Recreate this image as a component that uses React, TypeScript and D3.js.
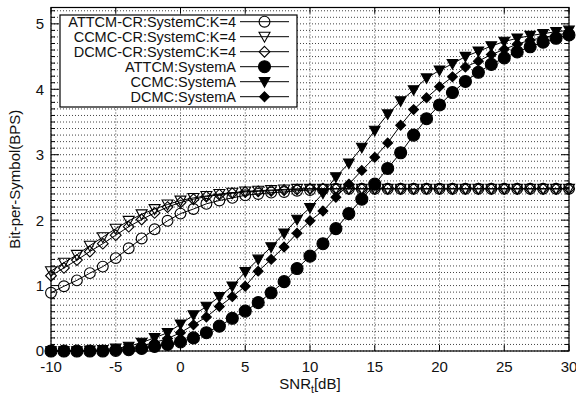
import React from "react";
import * as d3 from "d3";

const snr: number[] = d3.range(-10, 31, 1);

const attcmCR: number[] = [0.89, 0.99, 1.08, 1.19, 1.29, 1.42, 1.57, 1.72, 1.86, 1.99, 2.10, 2.17, 2.25, 2.30, 2.34, 2.38, 2.40, 2.42, 2.43, 2.45, 2.46, 2.47, 2.48, 2.48, 2.48, 2.48, 2.48, 2.48, 2.48, 2.48, 2.48, 2.48, 2.48, 2.48, 2.48, 2.48, 2.48, 2.48, 2.48, 2.48, 2.48];
const ccmcCR: number[] = [1.22, 1.35, 1.47, 1.61, 1.74, 1.87, 1.99, 2.09, 2.17, 2.24, 2.30, 2.34, 2.37, 2.40, 2.42, 2.44, 2.45, 2.46, 2.47, 2.48, 2.48, 2.48, 2.48, 2.48, 2.48, 2.48, 2.48, 2.48, 2.48, 2.48, 2.48, 2.48, 2.48, 2.48, 2.48, 2.48, 2.48, 2.48, 2.48, 2.48, 2.48];
const dcmcCR: number[] = [1.15, 1.27, 1.39, 1.52, 1.64, 1.77, 1.90, 2.01, 2.11, 2.20, 2.27, 2.32, 2.36, 2.39, 2.41, 2.43, 2.44, 2.45, 2.46, 2.47, 2.48, 2.48, 2.48, 2.48, 2.48, 2.48, 2.48, 2.48, 2.48, 2.48, 2.48, 2.48, 2.48, 2.48, 2.48, 2.48, 2.48, 2.48, 2.48, 2.48, 2.48];
const attcmA: number[] = [0, 0, 0, 0, 0, 0.01, 0.02, 0.04, 0.07, 0.10, 0.14, 0.20, 0.28, 0.38, 0.50, 0.61, 0.74, 0.89, 1.06, 1.26, 1.45, 1.64, 1.87, 2.10, 2.32, 2.55, 2.79, 3.03, 3.30, 3.55, 3.76, 3.95, 4.12, 4.26, 4.38, 4.48, 4.57, 4.65, 4.72, 4.78, 4.83];
const ccmcA: number[] = [0, 0, 0, 0.01, 0.02, 0.04, 0.07, 0.13, 0.20, 0.28, 0.41, 0.55, 0.68, 0.83, 0.99, 1.21, 1.40, 1.59, 1.80, 2.01, 2.19, 2.41, 2.66, 2.87, 3.11, 3.37, 3.62, 3.82, 3.99, 4.17, 4.29, 4.39, 4.50, 4.58, 4.66, 4.73, 4.78, 4.82, 4.85, 4.88, 4.90];
const dcmcA: number[] = [0, 0, 0, 0, 0.01, 0.02, 0.04, 0.08, 0.13, 0.19, 0.28, 0.40, 0.52, 0.68, 0.83, 0.99, 1.22, 1.40, 1.59, 1.80, 1.99, 2.14, 2.35, 2.55, 2.76, 2.96, 3.18, 3.45, 3.69, 3.87, 4.04, 4.19, 4.34, 4.43, 4.53, 4.61, 4.69, 4.75, 4.79, 4.83, 4.86];

const seriesNames: string[] = [
  "ATTCM-CR:SystemC:K=4",
  "CCMC-CR:SystemC:K=4",
  "DCMC-CR:SystemC:K=4",
  "ATTCM:SystemA",
  "CCMC:SystemA",
  "DCMC:SystemA",
];
const seriesValues: number[][] = [attcmCR, ccmcCR, dcmcCR, attcmA, ccmcA, dcmcA];
const seriesMarkers: string[] = ["circle", "triangle", "diamond", "circle", "triangle", "diamond"];
const seriesFilled: boolean[] = [false, false, false, true, true, true];

const xTicks: number[] = [-10, -5, 0, 5, 10, 15, 20, 25, 30];
const yTicks: number[] = [0, 1, 2, 3, 4, 5];

const W = 576;
const H = 396;
const left = 51;
const right = 569;
const top = 7.5;
const bottom = 351;
const FONT = "'Liberation Sans', Arial, sans-serif";
const FS = 15;
const LFS = 14.5;

function Marker({ kind, filled, x, y }: { kind: string; filled: boolean; x: number; y: number }) {
  const fill = filled ? "#000" : "none";
  const sw = 1.1;
  if (kind === "circle") {
    const r = filled ? 6 : 5.4;
    return <circle cx={x} cy={y} r={r} fill={fill} stroke="#000" strokeWidth={sw} />;
  }
  if (kind === "triangle") {
    const s = filled ? 5.3 : 5.5;
    const pts = `${x - s},${y - s * 0.8} ${x + s},${y - s * 0.8} ${x},${y + s}`;
    return <polygon points={pts} fill={fill} stroke="#000" strokeWidth={sw} strokeLinejoin="miter" />;
  }
  const s = filled ? 4.9 : 5.4;
  const pts = `${x},${y - s} ${x + s},${y} ${x},${y + s} ${x - s},${y}`;
  return <polygon points={pts} fill={fill} stroke="#000" strokeWidth={sw} />;
}

export default function App() {
  const x = d3.scaleLinear().domain([-10, 30]).range([left, right]);
  const y = d3.scaleLinear().domain([0, 5.25]).range([bottom, top]);
  const minorY = d3.range(0, 53, 1).map((i) => i / 10);
  const line = d3
    .line<[number, number]>()
    .x((d) => x(d[0]))
    .y((d) => y(d[1]));

  const legendTop = 15;
  const legendRow = 15;
  const legendX0 = 60;
  const legendX1 = 297;

  return (
    <svg
      width={W}
      height={H}
      style={{ position: "absolute", left: 0, top: 0, background: "#fff" }}
      fontFamily={FONT}
    >
      <rect x={0} y={0} width={W} height={H} fill="#fff" />
      {minorY.map((v) => (
        <line
          key={"gy" + v}
          x1={left}
          x2={right}
          y1={y(v)}
          y2={y(v)}
          stroke="#444"
          strokeWidth={1}
          strokeDasharray="1,2"
        />
      ))}
      {xTicks.map((v) => (
        <line
          key={"gx" + v}
          x1={x(v)}
          x2={x(v)}
          y1={top}
          y2={bottom}
          stroke="#444"
          strokeWidth={1}
          strokeDasharray="1,2"
        />
      ))}
      {minorY.map((v, i) => {
        const len = i % 10 === 0 ? 8 : 4;
        return (
          <g key={"ty" + v}>
            <line x1={left} x2={left + len} y1={y(v)} y2={y(v)} stroke="#000" strokeWidth={1} />
            <line x1={right} x2={right - len} y1={y(v)} y2={y(v)} stroke="#000" strokeWidth={1} />
          </g>
        );
      })}
      {xTicks.map((v) => (
        <g key={"tx" + v}>
          <line x1={x(v)} x2={x(v)} y1={bottom} y2={bottom - 6} stroke="#000" strokeWidth={1} />
          <line x1={x(v)} x2={x(v)} y1={top} y2={top + 6} stroke="#000" strokeWidth={1} />
        </g>
      ))}
      <rect x={left} y={top} width={right - left} height={bottom - top} fill="none" stroke="#000" strokeWidth={1.2} />
      {xTicks.map((v) => (
        <text key={"lx" + v} x={x(v)} y={372} fontSize={FS} textAnchor="middle" fill="#111">
          {v}
        </text>
      ))}
      {yTicks.map((v) => (
        <text key={"ly" + v} x={44} y={y(v)} dy="0.36em" fontSize={FS} textAnchor="end" fill="#111">
          {v}
        </text>
      ))}
      <text x={(left + right) / 2} y={389} fontSize={FS} textAnchor="middle" fill="#111">
        SNR
        <tspan fontSize={10.5} dy={3.5}>t</tspan>
        <tspan dy={-3.5}>[dB]</tspan>
      </text>
      <text
        transform={`translate(${20},${(top + bottom) / 2}) rotate(-90)`}
        fontSize={FS}
        textAnchor="middle"
        fill="#111"
      >
        Bit-per-Symbol(BPS)
      </text>
      {seriesValues.map((vals, si) => {
        const pts: [number, number][] = snr.map((s, i) => [s, vals[i]]);
        return (
          <g key={"s" + si}>
            <path d={line(pts) || ""} fill="none" stroke="#000" strokeWidth={1} />
            {pts.map((p, i) => (
              <Marker
                key={i}
                kind={seriesMarkers[si]}
                filled={seriesFilled[si]}
                x={x(p[0])}
                y={y(p[1])}
              />
            ))}
          </g>
        );
      })}
      <rect
        x={legendX0}
        y={legendTop}
        width={legendX1 - legendX0}
        height={legendRow * 6 + 2}
        fill="#fff"
        stroke="#000"
        strokeWidth={1.2}
      />
      {seriesNames.map((name, i) => {
        const cy = legendTop + 6.7 + i * legendRow;
        return (
          <g key={"lg" + i}>
            <text x={236} y={cy} dy="0.36em" fontSize={LFS} textAnchor="end" fill="#111">
              {name}
            </text>
            <line x1={240} x2={289} y1={cy} y2={cy} stroke="#000" strokeWidth={1} />
            <Marker kind={seriesMarkers[i]} filled={seriesFilled[i]} x={264.5} y={cy} />
          </g>
        );
      })}
    </svg>
  );
}
